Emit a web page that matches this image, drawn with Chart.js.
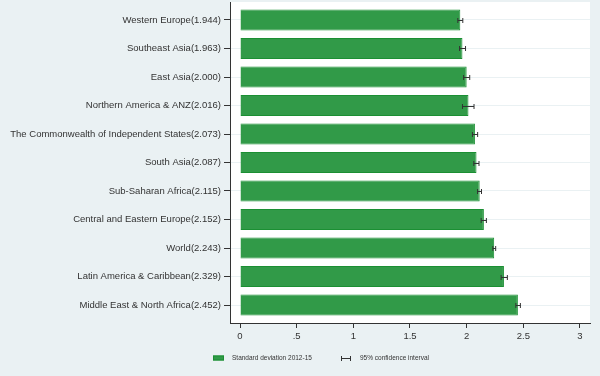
<!DOCTYPE html>
<html>
<head>
<meta charset="utf-8">
<script src="https://cdn.jsdelivr.net/npm/chart.js@4.4.1/dist/chart.umd.min.js"></script>
<style>
  html, body { margin: 0; padding: 0; background: #eaf1f3; }
  #wrap { width: 600px; height: 376px; }
</style>
</head>
<body>
<div id="wrap"><canvas id="chart" width="600" height="376"></canvas></div>
<script>
// regions, sorted as in the figure (top to bottom)
const categories = [
  'Western Europe(1.944)',
  'Southeast Asia(1.963)',
  'East Asia(2.000)',
  'Northern America & ANZ(2.016)',
  'The Commonwealth of Independent States(2.073)',
  'South Asia(2.087)',
  'Sub-Saharan Africa(2.115)',
  'Central and Eastern Europe(2.152)',
  'World(2.243)',
  'Latin America & Caribbean(2.329)',
  'Middle East & North Africa(2.452)'
]
const values = [1.944, 1.963, 2.000, 2.016, 2.073, 2.087, 2.115, 2.152, 2.243, 2.329, 2.452]
// 95% confidence interval
const ciLow  = [1.922, 1.937, 1.973, 1.963, 2.051, 2.063, 2.096, 2.128, 2.231, 2.304, 2.434]
const ciHigh = [1.966, 1.990, 2.027, 2.065, 2.097, 2.109, 2.131, 2.174, 2.256, 2.359, 2.474]
const xTicks = [0, 0.5, 1, 1.5, 2, 2.5, 3]
const xTickLabels = ['0', '.5', '1', '1.5', '2', '2.5', '3']

const legendLabels = ['Standard deviation 2012-15', '95% confidence interval']

const barColor = '#319a48'
const barBorder = '#1b8f33'
const inkColor = '#333333'
const labelFont = 'Liberation Sans, Arial, sans-serif'

// white plot background
const plotBg = {
  id: 'plotBg',
  beforeDraw(chart) {
    const {ctx, chartArea: a} = chart
    ctx.save()
    ctx.fillStyle = '#ffffff'
    ctx.fillRect(a.left, a.top, a.right - a.left, a.bottom - a.top)
    ctx.restore()
  }
}

// confidence interval whiskers
const errorBars = {
  id: 'errorBars',
  afterDatasetsDraw(chart) {
    const {ctx, scales: {x, y}} = chart
    ctx.save()
    ctx.strokeStyle = inkColor
    ctx.lineWidth = 1
    values.forEach((v, i) => {
      const py = Math.round(y.getPixelForValue(i)) + 0.5
      const x1 = x.getPixelForValue(ciLow[i])
      const x2 = x.getPixelForValue(ciHigh[i])
      ctx.beginPath()
      ctx.moveTo(x1, py); ctx.lineTo(x2, py)
      ctx.moveTo(x1, py - 2.5); ctx.lineTo(x1, py + 2.5)
      ctx.moveTo(x2, py - 2.5); ctx.lineTo(x2, py + 2.5)
      ctx.stroke()
    })
    ctx.restore()
  }
}

// legend under the axis
const bottomLegend = {
  id: 'bottomLegend',
  afterDraw(chart) {
    const ctx = chart.ctx
    const ly = 358
    ctx.save()
    ctx.fillStyle = barColor
    ctx.fillRect(213, ly - 2.5, 11, 5)
    ctx.strokeStyle = barBorder
    ctx.strokeRect(213.5, ly - 2, 10, 4)
    ctx.strokeStyle = inkColor
    ctx.lineWidth = 1
    ctx.beginPath()
    ctx.moveTo(341, ly + 0.5); ctx.lineTo(351, ly + 0.5)
    ctx.moveTo(341.5, ly - 2); ctx.lineTo(341.5, ly + 3)
    ctx.moveTo(350.5, ly - 2); ctx.lineTo(350.5, ly + 3)
    ctx.stroke()
    ctx.fillStyle = inkColor
    ctx.font = '6.5px ' + labelFont
    ctx.textBaseline = 'middle'
    ctx.fillText(legendLabels[0], 232, ly + 0.5)
    ctx.fillText(legendLabels[1], 360, ly + 0.5)
    ctx.restore()
  }
}

new Chart(document.getElementById('chart'), {
  type: 'bar',
  data: {
    datasets: [{
      label: legendLabels[0],
      data: values.map((v, i) => ({x: v, y: i})),
      backgroundColor: barColor,
      borderColor: barBorder,
      borderWidth: 1,
      barPercentage: 0.74,
      categoryPercentage: 1
    }]
  },
  options: {
    indexAxis: 'y',
    responsive: false,
    animation: false,
    layout: {padding: {top: 2, right: 10, left: 0, bottom: 0}},
    plugins: {legend: {display: false}, tooltip: {enabled: false}},
    scales: {
      x: {
        type: 'linear',
        min: -10 / 113.33,
        max: 350 / 113.33,
        afterBuildTicks: s => { s.ticks = xTicks.map(v => ({value: v})) },
        afterFit: s => { s.height = 53; s.paddingLeft = 0; s.paddingRight = 0 },
        ticks: {
          color: inkColor,
          font: {family: labelFont, size: 9.5},
          padding: 3,
          callback: v => xTickLabels[xTicks.indexOf(v)]
        },
        grid: {drawOnChartArea: false, drawTicks: true, tickLength: 5, tickColor: inkColor},
        border: {color: inkColor, width: 1}
      },
      y: {
        type: 'linear',
        reverse: true,
        offset: false,
        min: -18 / 28.5,
        max: 10 + 18 / 28.5,
        afterBuildTicks: s => { s.ticks = categories.map((c, i) => ({value: i})) },
        afterFit: s => { s.width = 230; s.paddingTop = 0; s.paddingBottom = 0 },
        ticks: {
          color: inkColor,
          font: {family: labelFont, size: 9.5},
          padding: 3,
          callback: v => categories[Math.round(v)]
        },
        grid: {offset: false, color: '#eaf1f3', lineWidth: 1, tickLength: 6, tickColor: inkColor},
        border: {color: inkColor, width: 1}
      }
    }
  },
  plugins: [plotBg, errorBars, bottomLegend]
})
</script>
</body>
</html>
